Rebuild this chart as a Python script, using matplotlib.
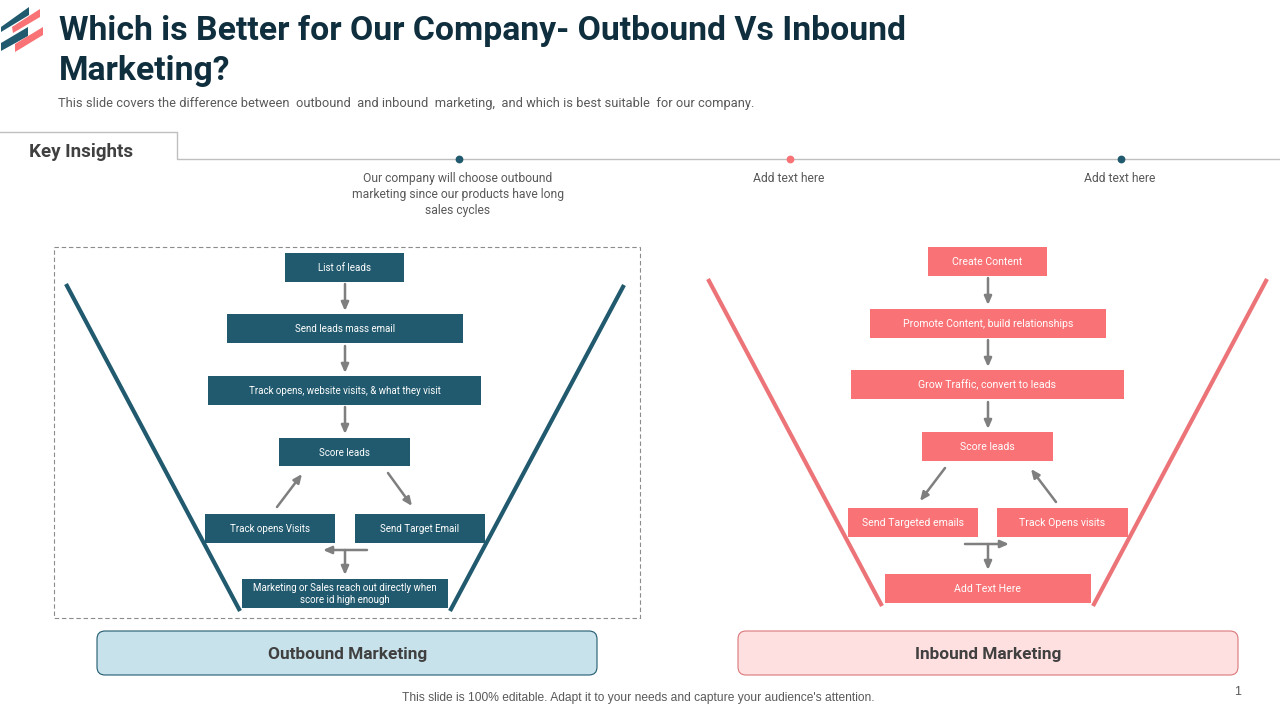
import matplotlib
matplotlib.use("Agg")
import matplotlib.pyplot as plt
from matplotlib.patches import FancyBboxPatch, Polygon, Rectangle

TEAL = "#215A6E"
CORAL = "#F97275"
FUNNEL_CORAL = "#EC7478"
DARK = "#102F3E"
GREY = "#7F7F7F"
TEXT = "#404040"
BODY = "#595959"

title_lines = ["Which is Better for Our Company- Outbound Vs Inbound", "Marketing?"]
subtitle = "This slide covers the difference between  outbound  and inbound  marketing,  and which is best suitable  for our company."
insight_texts = [
    "Our company will choose outbound\nmarketing since our products have long\nsales cycles",
    "Add text here",
    "Add text here",
]
outbound_steps = [
    "List of leads",
    "Send leads mass email",
    "Track opens, website visits, & what they visit",
    "Score leads",
    "Track opens Visits",
    "Send Target Email",
    "Marketing or Sales reach out directly when\nscore id high enough",
]
inbound_steps = [
    "Create Content",
    "Promote Content, build relationships",
    "Grow Traffic, convert to leads",
    "Score leads",
    "Send Targeted emails",
    "Track Opens visits",
    "Add Text Here",
]
panel_names = ["Outbound Marketing", "Inbound Marketing"]
footer = "This slide is 100% editable. Adapt it to your needs and capture your audience's attention."

fig = plt.figure(figsize=(12.8, 7.2), dpi=100)
ax = fig.add_axes([0, 0, 1, 1])
ax.set_xlim(0, 1280)
ax.set_ylim(720, 0)
ax.axis("off")


def fit(txt, width):
    # no condensed fonts here, so scale the size until the text is as wide as in the slide
    w = txt.get_window_extent(fig.canvas.get_renderer()).width
    txt.set_fontsize(txt.get_fontsize() * width / w)
    return txt


def box(x0, x1, y0, y1, label, color, size):
    ax.add_patch(Rectangle((x0, y0), x1 - x0, y1 - y0, fc=color, ec="none"))
    ax.text((x0 + x1) / 2, (y0 + y1) / 2 + 0.5, label, color="white", ha="center", va="center",
            fontsize=size, family="Roboto", linespacing=1.2)


def arrow(x0, y0, x1, y1):
    ax.annotate("", xy=(x1, y1), xytext=(x0, y0),
                arrowprops=dict(arrowstyle="-|>,head_width=0.22,head_length=0.5", color=GREY,
                                lw=1.8, shrinkA=0, shrinkB=0))


# logo
for pts, c in [
    ([(1, 27), (29, 7), (29, 15), (1, 32)], TEAL),
    ([(12, 27), (40, 9), (40, 17), (13, 33)], CORAL),
    ([(1, 43), (28, 27), (28, 36), (1, 51)], TEAL),
    ([(15, 44), (43, 27), (43, 35), (15, 52)], CORAL),
]:
    ax.add_patch(Polygon(pts, fc=c, ec="none"))

# header
t = ax.text(59, 31, title_lines[0], color=DARK, fontsize=27, fontweight="bold", family="Roboto", va="center")
fit(t, 848)
ax.text(59, 71, title_lines[1], color=DARK, fontsize=t.get_fontsize(), fontweight="bold",
        family="Roboto", va="center")
fit(ax.text(58, 103, subtitle, color=BODY, fontsize=9, family="Roboto", va="center"), 699)

# key insights tab
ax.plot([0, 177, 177, 1280], [132, 132, 159, 159], color="#BFBFBF", lw=1)
fit(ax.text(81.5, 152, "Key Insights", color=TEXT, fontsize=15, fontweight="bold",
            family="Roboto", ha="center", va="center"), 105)
for x, c, s in zip([459, 790, 1121], [TEAL, CORAL, TEAL], insight_texts):
    ax.plot(x, 159, "o", color=c, ms=4.6)
    ax.text(x - 1, 178 if "\n" not in s else 194.5, s, color=BODY, fontsize=8.75, family="Roboto",
            ha="center", va="center", linespacing=1.3)

# outbound panel
ax.add_patch(Rectangle((54, 247), 585.5, 371, fc="none", ec="#8C8C8C", lw=0.8, ls=(0, (4, 2.5))))
ax.plot([66, 240], [284, 611], color=TEAL, lw=3, solid_capstyle="butt")
ax.plot([624, 450], [285, 611], color=TEAL, lw=3, solid_capstyle="butt")
out_boxes = [(285, 404, 253, 282), (227, 463, 314, 343), (208, 481, 376, 405), (279, 410, 438, 466),
             (205, 335, 514, 543), (355, 485, 514, 543), (242, 448, 579, 608)]
for (x0, x1, y0, y1), s in zip(out_boxes, outbound_steps):
    box(x0, x1, y0, y1, s, TEAL, 7)
for a in [(345, 284, 345, 311), (345, 346, 345, 373), (345, 407, 345, 434),
          (277, 507, 302, 474), (388, 473, 412, 506), (367, 550, 323, 550), (345, 550, 345, 575)]:
    arrow(*a)

# inbound panel
ax.plot([708, 882], [279, 606], color=FUNNEL_CORAL, lw=3, solid_capstyle="butt")
ax.plot([1267, 1093], [279, 606], color=FUNNEL_CORAL, lw=3, solid_capstyle="butt")
in_boxes = [(928, 1047, 247, 276), (870, 1106, 309, 338), (851, 1124, 370, 399), (922, 1053, 432, 461),
            (848, 978, 508, 537), (997, 1128, 508, 537), (885, 1091, 574, 603)]
for (x0, x1, y0, y1), s in zip(in_boxes, inbound_steps):
    box(x0, x1, y0, y1, s, CORAL, 7.6)
for a in [(988, 278, 988, 305), (988, 340, 988, 367), (988, 402, 988, 429),
          (945, 468, 920, 501), (1056, 502, 1031, 469), (965, 544, 1009, 544), (988, 544, 988, 570)]:
    arrow(*a)

# bottom name plates
for (x0, x1), name, fc, ec, w in zip([(97, 597), (738, 1238)], panel_names,
                                     ["#C8E2EC", "#FFE0E0"], [TEAL, "#D9777A"], [159, 147]):
    ax.add_patch(FancyBboxPatch((x0, 631), x1 - x0, 44, boxstyle="round,pad=0,rounding_size=8",
                                fc=fc, ec=ec, lw=0.8))
    fit(ax.text((x0 + x1) / 2 + 0.5, 654, name, color=TEXT, fontsize=14, fontweight="bold",
                family="Roboto", ha="center", va="center"), w)

fit(ax.text(638, 698, footer, color=BODY, fontsize=8.7, family="Liberation Sans", ha="center", va="center"), 474)
ax.text(1238, 692, "1", color=BODY, fontsize=9, family="Liberation Sans", ha="center", va="center")

fig.savefig("out.png", dpi=100)
